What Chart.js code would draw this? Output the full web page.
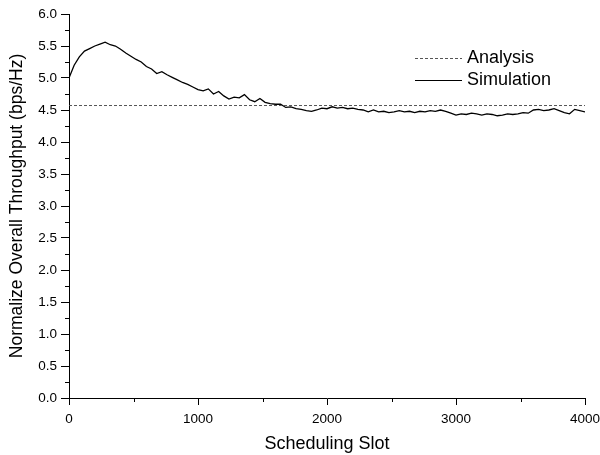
<!DOCTYPE html>
<html>
<head>
<meta charset="utf-8">
<script src="https://cdn.jsdelivr.net/npm/chart.js@4/dist/chart.umd.min.js"></script>
<style>
  html, body { margin: 0; padding: 0; background: #fff; }
  #wrap { width: 600px; height: 455px; }
</style>
</head>
<body>
<div id="wrap"><canvas id="throughput-chart" width="600" height="455"></canvas></div>
<script>
// values
const slots = [
  0, 40, 80, 120, 160, 200, 240, 280, 320, 360,
  400, 440, 480, 520, 560, 600, 640, 680, 720, 760,
  800, 840, 880, 920, 960, 1000, 1040, 1080, 1120, 1160,
  1200, 1240, 1280, 1320, 1360, 1400, 1440, 1480, 1520, 1560,
  1600, 1640, 1680, 1720, 1760, 1800, 1840, 1880, 1920, 1960,
  2000, 2040, 2080, 2120, 2160, 2200, 2240, 2280, 2320, 2360,
  2400, 2440, 2480, 2520, 2560, 2600, 2640, 2680, 2720, 2760,
  2800, 2840, 2880, 2920, 2960, 3000, 3040, 3080, 3120, 3160,
  3200, 3240, 3280, 3320, 3360, 3400, 3440, 3480, 3520, 3560,
  3600, 3640, 3680, 3720, 3760, 3800, 3840, 3880, 3920, 3960,
  4000
];
const simulation = [
  5.00, 5.20, 5.33, 5.42, 5.46, 5.50, 5.53, 5.56, 5.52, 5.50,
  5.45, 5.39, 5.34, 5.29, 5.25, 5.18, 5.14, 5.07, 5.10, 5.05,
  5.01, 4.97, 4.93, 4.90, 4.86, 4.82, 4.80, 4.83, 4.75, 4.79,
  4.72, 4.67, 4.70, 4.69, 4.74, 4.66, 4.63, 4.68, 4.62, 4.60,
  4.59, 4.59, 4.54, 4.55, 4.52, 4.51, 4.49, 4.48, 4.50, 4.53,
  4.52, 4.55, 4.53, 4.54, 4.52, 4.53, 4.51, 4.50, 4.47, 4.50,
  4.47, 4.48, 4.46, 4.47, 4.49, 4.47, 4.48, 4.46, 4.48, 4.47,
  4.49, 4.48, 4.50, 4.48, 4.45, 4.42, 4.44, 4.43, 4.45, 4.44,
  4.42, 4.44, 4.43, 4.41, 4.42, 4.44, 4.43, 4.44, 4.46, 4.45,
  4.50, 4.51, 4.49, 4.50, 4.52, 4.49, 4.46, 4.44, 4.51, 4.49,
  4.47
];
const analysisSlots = [0, 4000];
const analysis = [4.57, 4.57];

const seriesNames = ['Analysis', 'Simulation'];
const xTitle = 'Scheduling Slot';
const yTitle = 'Normalize Overall Throughput (bps/Hz)';

Chart.defaults.font.family = '"Liberation Sans", Arial, sans-serif';
Chart.defaults.color = '#000';

// minor ticks + in-plot legend (Origin style)
const originDecor = {
  id: 'originDecor',
  afterDraw(chart) {
    const ctx = chart.ctx;
    const xs = chart.scales.x;
    const ys = chart.scales.y;
    ctx.save();
    ctx.strokeStyle = '#000';
    ctx.lineWidth = 1;
    ctx.beginPath();
    for (let v = 500; v < 4000; v += 1000) {
      const px = Math.round(xs.getPixelForValue(v)) + 0.5;
      ctx.moveTo(px, ys.bottom);
      ctx.lineTo(px, ys.bottom + 4);
    }
    for (let v = 0.25; v < 6; v += 0.5) {
      const py = Math.round(ys.getPixelForValue(v)) + 0.5;
      ctx.moveTo(xs.left - 4, py);
      ctx.lineTo(xs.left, py);
    }
    ctx.stroke();

    // legend
    const lx0 = 415, lx1 = 462, tx = 467;
    const rows = [58, 80];
    ctx.font = '18px "Liberation Sans", Arial, sans-serif';
    ctx.textBaseline = 'middle';
    ctx.fillStyle = '#000';
    chart.data.datasets.forEach((ds, i) => {
      ctx.beginPath();
      ctx.strokeStyle = ds.borderColor;
      ctx.lineWidth = 1;
      ctx.setLineDash(ds.borderDash || []);
      ctx.moveTo(lx0, rows[i] + 0.5);
      ctx.lineTo(lx1, rows[i] + 0.5);
      ctx.stroke();
      ctx.setLineDash([]);
      ctx.fillText(ds.label, tx, rows[i]);
    });
    ctx.restore();
  }
};

const config = {
  type: 'line',
  data: {
    datasets: [
      {
        label: seriesNames[0],
        data: analysisSlots.map((s, i) => ({ x: s, y: analysis[i] })),
        borderColor: '#555',
        borderWidth: 1,
        borderDash: [3, 2],
        pointRadius: 0,
        fill: false,
      },
      {
        label: seriesNames[1],
        data: slots.map((s, i) => ({ x: s, y: simulation[i] })),
        borderColor: '#000',
        borderWidth: 1.3,
        pointRadius: 0,
        tension: 0,
        fill: false,
      },
    ],
  },
  options: {
    responsive: false,
    animation: false,
    layout: { padding: { top: 14, right: 15, left: 0, bottom: 0 } },
    plugins: {
      legend: { display: false },
      tooltip: { enabled: false },
    },
    scales: {
      x: {
        type: 'linear',
        min: 0,
        max: 4000,
        afterFit: (scale) => {
          scale.height = 57;
          scale.paddingLeft = 0;
          scale.paddingRight = 0;
        },
        ticks: {
          stepSize: 1000,
          font: { size: 13.5 },
          padding: 6,
          maxRotation: 0,
          callback: (v) => String(v),
        },
        grid: {
          drawOnChartArea: false,
          tickLength: 7,
          color: '#000',
        },
        border: { color: '#000', width: 1 },
        title: {
          display: true,
          text: xTitle,
          font: { size: 18 },
          padding: { top: 0, bottom: 0 },
        },
      },
      y: {
        min: 0,
        max: 6,
        afterFit: (scale) => {
          scale.width = 69;
          scale.paddingTop = 0;
          scale.paddingBottom = 0;
        },
        ticks: {
          stepSize: 0.5,
          font: { size: 13.5 },
          padding: 4,
          callback: (v) => Number(v).toFixed(1),
        },
        grid: {
          drawOnChartArea: false,
          tickLength: 8,
          color: '#000',
        },
        border: { color: '#000', width: 1 },
        title: {
          display: true,
          text: yTitle,
          font: { size: 17.5 },
          padding: { top: 7, bottom: 0 },
        },
      },
    },
  },
  plugins: [originDecor],
};

new Chart(document.getElementById('throughput-chart'), config);
</script>
</body>
</html>
